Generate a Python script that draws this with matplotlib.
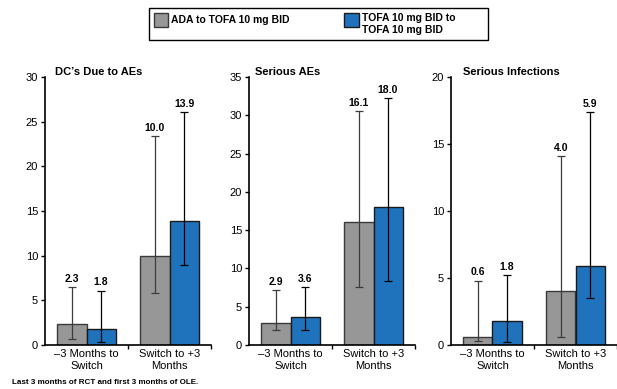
import numpy as np
import matplotlib.pyplot as plt
from matplotlib.patches import Rectangle

plt.rcParams['font.family'] = ['Liberation Sans', 'DejaVu Sans']

categories = ['\u20133 Months to\nSwitch', 'Switch to +3\nMonths']
series_names = ['ADA to TOFA 10 mg BID', 'TOFA 10 mg BID to\nTOFA 10 mg BID']
titles = ["DC\u2019s Due to AEs", 'Serious AEs', 'Serious Infections']
ymax = [30, 35, 20]
ysteps = [5, 5, 5]

# rates per panel: [gray, blue] for each category
dc_ada = [2.3, 10.0]
dc_tofa = [1.8, 13.9]
dc_ada_lo = [0.7, 5.8]
dc_ada_hi = [6.5, 23.4]
dc_tofa_lo = [0.3, 9.0]
dc_tofa_hi = [6.1, 26.1]

sae_ada = [2.9, 16.1]
sae_tofa = [3.6, 18.0]
sae_ada_lo = [2.0, 7.6]
sae_ada_hi = [7.2, 30.5]
sae_tofa_lo = [1.9, 8.3]
sae_tofa_hi = [7.6, 32.2]

si_ada = [0.6, 4.0]
si_tofa = [1.8, 5.9]
si_ada_lo = [0.3, 0.6]
si_ada_hi = [4.8, 14.1]
si_tofa_lo = [0.2, 3.5]
si_tofa_hi = [5.2, 17.4]

panels = [
    (dc_ada, dc_ada_lo, dc_ada_hi, dc_tofa, dc_tofa_lo, dc_tofa_hi),
    (sae_ada, sae_ada_lo, sae_ada_hi, sae_tofa, sae_tofa_lo, sae_tofa_hi),
    (si_ada, si_ada_lo, si_ada_hi, si_tofa, si_tofa_lo, si_tofa_hi),
]

gray = '#979797'
blue = '#1f73bd'
W, H = 617, 389
lefts = [45/W, 249/W, 451/W]
title_off = [10, 6, 12]   # px from y axis
bottom = 1 - 345/H
height = (345 - 77)/H
width = 166/W

fig = plt.figure(figsize=(6.17, 3.89), dpi=100)

w = 0.35
x = np.arange(len(categories))
for i, (a, alo, ahi, t, tlo, thi) in enumerate(panels):
    ax = fig.add_axes([lefts[i], bottom, width, height])
    a = np.array(a); t = np.array(t)
    aerr = [a - np.array(alo), np.array(ahi) - a]
    terr = [t - np.array(tlo), np.array(thi) - t]
    ax.bar(x - w/2, a, w, color=gray, edgecolor='#3a3a3a', linewidth=1.0, zorder=2)
    ax.bar(x + w/2, t, w, color=blue, edgecolor='#1a1a1a', linewidth=1.0, zorder=2)
    ax.errorbar(x - w/2, a, yerr=aerr, fmt='none', ecolor='#3c3c3c', elinewidth=0.9,
                capsize=3, capthick=0.9, zorder=3)
    ax.errorbar(x + w/2, t, yerr=terr, fmt='none', ecolor='black', elinewidth=0.9,
                capsize=3, capthick=0.9, zorder=3)
    for xi, v, hi in zip(x - w/2, a, ahi):
        ax.text(xi, hi + ymax[i]*0.012, f'{v:.1f}', ha='center', va='bottom',
                fontsize=7.5, fontweight='bold')
    for xi, v, hi in zip(x + w/2, t, thi):
        ax.text(xi, hi + ymax[i]*0.012, f'{v:.1f}', ha='center', va='bottom',
                fontsize=7.5, fontweight='bold')
    ax.set_xlim(-0.5, 1.5)
    ax.set_ylim(0, ymax[i])
    ax.set_yticks(np.arange(0, ymax[i] + 0.1, ysteps[i]))
    ax.set_xticks([0.5, 1.5])
    ax.set_xticklabels([])
    ax.set_xticks(x, minor=True)
    ax.set_xticklabels(categories, minor=True, fontsize=8)
    ax.tick_params(axis='x', which='minor', length=0, pad=3)
    ax.tick_params(axis='x', which='major', length=3, width=1, direction='out')
    ax.tick_params(axis='y', length=3, width=1, labelsize=8, pad=2)
    ax.spines['top'].set_visible(False)
    ax.spines['right'].set_visible(False)
    ax.spines['left'].set_linewidth(1.2)
    ax.spines['bottom'].set_linewidth(1.2)
    ax.text(lefts[i] + title_off[i]/W, 1 - 75/H, titles[i], transform=fig.transFigure,
            fontsize=8, fontweight='bold', ha='left', va='baseline')

# legend box drawn by hand so the labels top-align like the original
fig.add_artist(Rectangle((149/W, 1 - 40/H), 339/W, 32/H, transform=fig.transFigure,
                         facecolor='none', edgecolor='black', linewidth=1.0))
fig.add_artist(Rectangle((154/W, 1 - 27/H), 14/W, 14/H, transform=fig.transFigure,
                         facecolor=gray, edgecolor='#3a3a3a', linewidth=1.0))
fig.add_artist(Rectangle((344/W, 1 - 27/H), 15/W, 14/H, transform=fig.transFigure,
                         facecolor=blue, edgecolor='#1a1a1a', linewidth=1.0))
fig.text(171/W, 1 - 20/H, series_names[0], fontsize=7.5, fontweight='bold',
         ha='left', va='center')
fig.text(362/W, 1 - 13/H, series_names[1], fontsize=7.5, fontweight='bold',
         ha='left', va='top', linespacing=1.2)

fig.text(12/W, 1 - 382/H, 'Last 3 months of RCT and first 3 months of OLE.',
         fontsize=5.8, fontweight='bold', ha='left', va='center')

fig.savefig('out.png', dpi=100)
